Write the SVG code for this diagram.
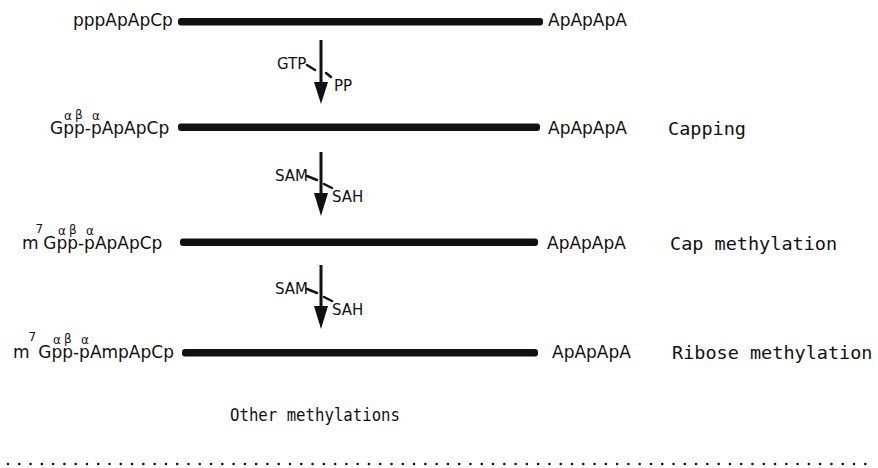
<svg xmlns="http://www.w3.org/2000/svg" width="878" height="468" viewBox="0 0 878 468">
  <style>
    .chem { font-family: "DejaVu Sans", "Liberation Sans", sans-serif; font-size: 17px; fill: #111; }
    .sup { font-family: "DejaVu Sans", "Liberation Sans", sans-serif; font-size: 12px; }
    .step { font-family: "DejaVu Sans Mono", "Liberation Mono", monospace; font-size: 18.5px; fill: #111; }
    .rx { font-family: "DejaVu Sans", "Liberation Sans", sans-serif; font-size: 15px; fill: #111; }
    .bar { fill: #111; }
    .shaft { stroke: #111; stroke-width: 3; }
    .tick { stroke: #111; stroke-width: 2.5; stroke-linecap: round; }
    .head { fill: #111; }
  </style>

  <!-- uncapped transcript -->
  <g id="rna-triphosphate">
    <text class="chem" x="73" y="26">pppApApCp</text>
    <rect class="bar" x="178" y="18" width="365" height="7.5" rx="3"/>
    <text class="chem" x="548" y="26">ApApApA</text>
  </g>

  <!-- GpppN cap: phosphate labels set above the p's -->
  <g id="rna-capped">
    <text class="chem" x="50" y="134">Gpp-pApApCp<tspan class="sup" x="64" y="120">α</tspan><tspan class="sup" x="75" y="119">β</tspan><tspan class="sup" x="92" y="120">α</tspan></text>
    <rect class="bar" x="178" y="123.5" width="362" height="7.5" rx="3"/>
    <text class="chem" x="548" y="134">ApApApA</text>
    <text class="step" x="668" y="135">Capping</text>
  </g>

  <!-- m7G cap -->
  <g id="rna-cap-methylated">
    <text class="chem" x="22" y="249">m<tspan class="sup" font-size="13" dx="-3" dy="-16">7</tspan><tspan dy="16">Gpp-pApApCp</tspan><tspan class="sup" x="58" y="235">α</tspan><tspan class="sup" x="69" y="234">β</tspan><tspan class="sup" x="86" y="235">α</tspan></text>
    <rect class="bar" x="180" y="238.5" width="358" height="7.5" rx="3"/>
    <text class="chem" x="547" y="249">ApApApA</text>
    <text class="step" x="670" y="250">Cap methylation</text>
  </g>

  <!-- 2'-O-methylated first nucleotide -->
  <g id="rna-ribose-methylated">
    <text class="chem" x="13" y="358">m<tspan class="sup" font-size="13" dx="-1" dy="-17">7</tspan><tspan dy="17" dx="2">Gpp-pAmpApCp</tspan><tspan class="sup" x="53" y="344">α</tspan><tspan class="sup" x="64" y="343">β</tspan><tspan class="sup" x="81" y="344">α</tspan></text>
    <rect class="bar" x="182" y="349" width="356" height="7.5" rx="3"/>
    <text class="chem" x="552" y="358">ApApApA</text>
    <text class="step" x="672" y="359">Ribose methylation</text>
  </g>

  <g id="other-methylations">
    <text class="step" x="230" y="421" font-size="17" textLength="170" lengthAdjust="spacingAndGlyphs">Other methylations</text>
  </g>

  <!-- reaction arrows with substrate / by-product ticks -->
  <g id="connectors">
    <g id="step-capping">
      <line class="shaft" x1="321" y1="40" x2="321" y2="86"/>
      <polygon class="head" points="314,82 328,82 321,104"/>
      <line class="tick" x1="307" y1="65" x2="315" y2="70"/>
      <line class="tick" x1="326" y1="73" x2="331" y2="77"/>
      <text class="rx" x="277" y="69">GTP</text>
      <text class="rx" x="334" y="91">PP</text>
    </g>
    <g id="step-cap-methylation">
      <line class="shaft" x1="321" y1="152" x2="321" y2="197"/>
      <polygon class="head" points="314,193 328,193 321,216"/>
      <line class="tick" x1="307" y1="176" x2="317" y2="180"/>
      <line class="tick" x1="324" y1="184" x2="332" y2="188"/>
      <text class="rx" x="275" y="181">SAM</text>
      <text class="rx" x="332" y="202">SAH</text>
    </g>
    <g id="step-ribose-methylation">
      <line class="shaft" x1="321" y1="265" x2="321" y2="310"/>
      <polygon class="head" points="314,306 328,306 321,329"/>
      <line class="tick" x1="307" y1="289" x2="317" y2="293"/>
      <line class="tick" x1="324" y1="297" x2="332" y2="301"/>
      <text class="rx" x="275" y="294">SAM</text>
      <text class="rx" x="332" y="315">SAH</text>
    </g>
  </g>

  <!-- dotted rule -->
  <line x1="8" y1="464" x2="872" y2="464" stroke="#111" stroke-width="2.6" stroke-linecap="round" stroke-dasharray="0 11.28"/>
</svg>
